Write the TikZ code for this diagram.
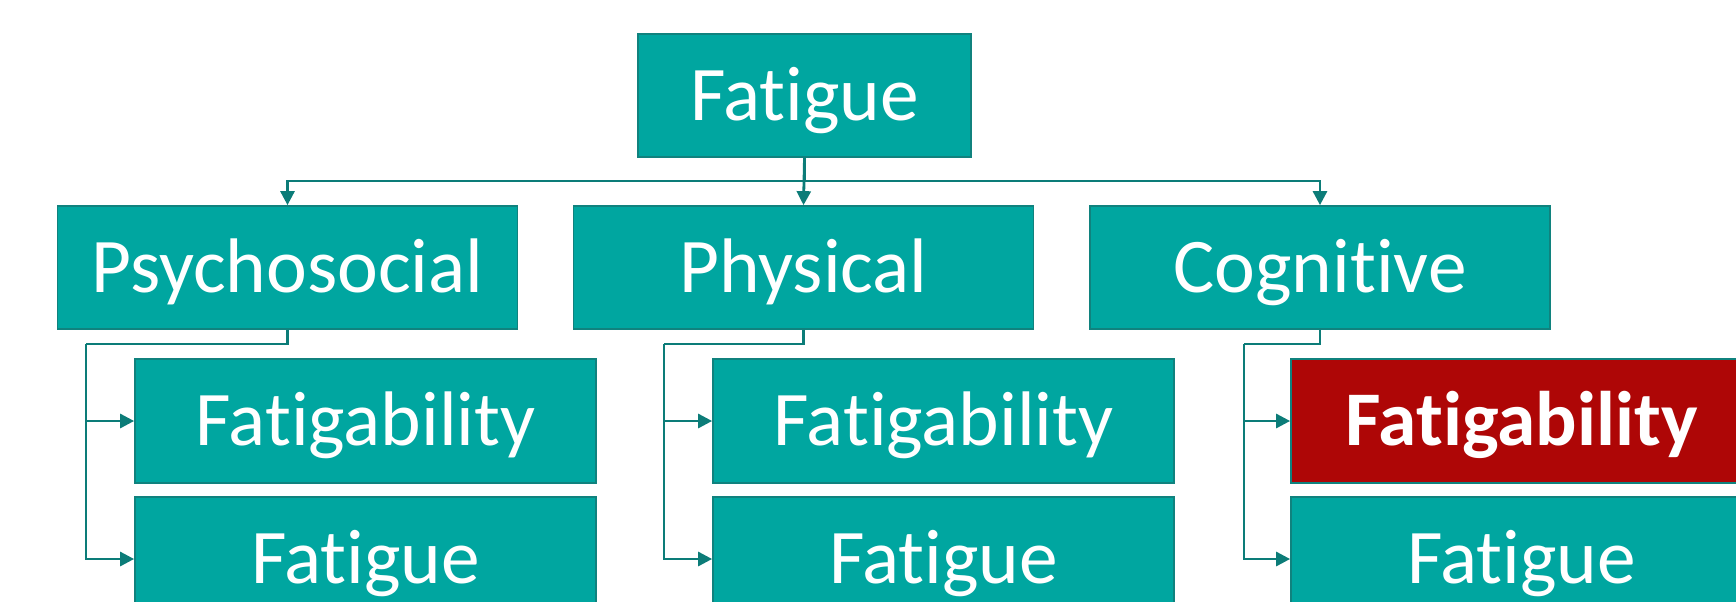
\documentclass[tikz,border=0pt]{standalone}
\usepackage{fontspec}
\setmainfont[Ligatures=NoCommon]{Carlito}
\usetikzlibrary{arrows.meta}
\definecolor{tealfill}{RGB}{0,166,160}
\definecolor{tealedge}{RGB}{16,130,126}
\definecolor{conncol}{RGB}{12,124,120}
\definecolor{redfill}{RGB}{174,6,6}
\tikzset{
  box/.style={draw=tealedge, line width=1.3pt, fill=tealfill, text=white,
    inner sep=0pt, text height=37pt, text depth=0pt,
    font=\fontsize{58}{70}\selectfont},
  topbox/.style={box, minimum width=249.75pt, minimum height=92.25pt},
  midbox/.style={box, minimum width=345pt, minimum height=92.25pt},
  leafbox/.style={box, minimum width=345.75pt, minimum height=93pt},
  hotbox/.style={leafbox, fill=redfill, font=\fontsize{58}{70}\selectfont\bfseries},
  conn/.style={draw=conncol, line width=2.1pt, -{Triangle[length=10.5pt,width=10.5pt]}},
  plain/.style={draw=conncol, line width=2.1pt}
}
\begin{document}
\begin{tikzpicture}[x=0.75pt,y=-0.75pt]
\useasboundingbox (0,0) rectangle (1736,601);
\clip (0,0) rectangle (1736,601);
% nodes
\node[topbox] (top) at (804.5,95.5) {Fatigue};
\node[midbox] (psy) at (287.5,267.5) {Psychosocial};
\node[midbox] (phy) at (803.5,267.5) {Physical};
\node[midbox] (cog) at (1320,267.5) {Cognitive};
\node[leafbox] (fa1) at (365.5,421) {Fatigability};
\node[leafbox] (fg1) at (365.5,559) {Fatigue};
\node[leafbox] (fa2) at (943.5,421) {Fatigability};
\node[leafbox] (fg2) at (943.5,559) {Fatigue};
\node[hotbox] (fa3) at (1521.5,421) {Fatigability};
\node[leafbox] (fg3) at (1521.5,559) {Fatigue};
% top level connectors
\coordinate (bus) at (0,181);
\draw[conn] (top.south) -- (top.south |- bus) -| (psy.north);
\draw[conn] (top.south) -- (phy.north);
\draw[conn] (top.south) -- (top.south |- bus) -| (cog.north);
% second level connectors
\coordinate (k1) at (86,344);
\coordinate (k2) at (664,344);
\coordinate (k3) at (1244,344);
\draw[plain] (psy.south) |- (k1);
\draw[conn] (k1) |- (fa1.west);
\draw[conn] (k1) |- (fg1.west);
\draw[plain] (phy.south) |- (k2);
\draw[conn] (k2) |- (fa2.west);
\draw[conn] (k2) |- (fg2.west);
\draw[plain] (cog.south) |- (k3);
\draw[conn] (k3) |- (fa3.west);
\draw[conn] (k3) |- (fg3.west);
\end{tikzpicture}
\end{document}
